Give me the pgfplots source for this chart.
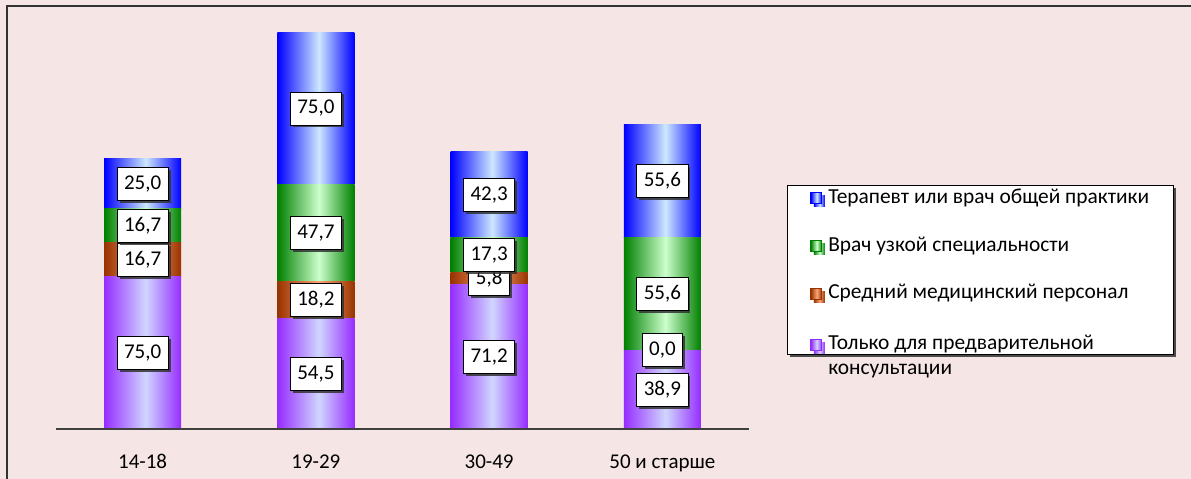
\documentclass[border=0pt]{standalone}
\usepackage{pgfplots}
\pgfplotsset{compat=1.18}
\usepackage{pgfplotstable}
\usepackage{fontspec}
\setmainfont{Carlito}
\usetikzlibrary{shadows}

\definecolor{bgpink}{RGB}{245,229,229}
\definecolor{blueE}{RGB}{0,0,255}
\definecolor{blueM}{RGB}{205,232,255}
\definecolor{greenE}{RGB}{0,128,0}
\definecolor{greenM}{RGB}{204,255,204}
\definecolor{brownE}{RGB}{153,51,0}
\definecolor{brownM}{RGB}{250,165,120}
\definecolor{violetE}{RGB}{150,45,255}
\definecolor{violetM}{RGB}{208,214,255}

% cylinder-like shading: saturated edges, light stripe a little right of centre
\newcommand\barshading[1]{%
  \pgfdeclarehorizontalshading{bar#1}{100bp}{color(0bp)=(#1E); color(25bp)=(#1E);
    color(52bp)=(#1M); color(75bp)=(#1E); color(100bp)=(#1E)}}
\barshading{blue}
\barshading{green}
\barshading{brown}
\barshading{violet}

% shares by age group: a = preliminary consultation only, b = nursing staff,
% c = specialist, d = therapist / general practitioner
\pgfplotstableread{
x  a    b    c    d
0  75.0 16.7 16.7 25.0
1  54.5 18.2 47.7 75.0
2  71.2 5.8  17.3 42.3
3  38.9 0.0  55.6 55.6
}\shares

\pgfplotsset{
  frame geom/.style={at={(56bp,50bp)}, anchor=south west,
    scale only axis, width=693bp, height=406bp,
    xmin=-0.5, xmax=3.5, ymin=0, ymax=200, clip=false},
  gradbar/.style={draw=none, shade, shading=bar#1,
    legend image code/.code={\draw[shade, shading=bar#1,
      draw=#1E, line width=0.8bp] (0bp,-0.5bp) rectangle (11bp,10.5bp);}},
  valuelabel/.style={forget plot, sharp plot, draw=none, mark=none,
    point meta=explicit,
    nodes near coords={\pgfmathprintnumber[fixed, fixed zerofill, precision=1, use comma]{\pgfplotspointmeta}},
    nodes near coords align={center},
    every node near coord/.append style={fill=white, draw=black, line width=0.8bp,
      text=black, inner xsep=7bp, inner ysep=0bp, minimum height=33bp,
      font=\fontsize{21bp}{25bp}\selectfont,
      drop shadow={shadow xshift=2.5bp, shadow yshift=-2.5bp, opacity=0.85, fill=black!80}}},
}

% one stacked column per axis, so every bar gets its own shading
\newcommand\agegroup[2]{%
\begin{axis}[frame geom, hide axis, ybar stacked, bar width=77bp,
  restrict x to domain=#1:#2]
\addplot[gradbar=violet] table[x=x, y=a] {\shares};
\addplot[gradbar=brown] table[x=x, y=b] {\shares};
\addplot[gradbar=green] table[x=x, y=c] {\shares};
\addplot[gradbar=blue] table[x=x, y=d] {\shares};
\end{axis}}

\begin{document}
\begin{tikzpicture}
\useasboundingbox (0,0) rectangle (1191bp,479bp);
\fill[bgpink] (0,0) rectangle (1191bp,479bp);
\draw[black!80, line width=2bp] (7bp,0) -- (7bp,472.5bp) -- (1191bp,472.5bp);

\agegroup{-0.2}{0.2}
\agegroup{0.8}{1.2}
\agegroup{1.8}{2.2}
\agegroup{2.8}{3.2}

\begin{axis}[frame geom,
  axis x line=bottom, axis y line=none,
  axis line style={-, draw=black!75, line width=1.5bp},
  xtick={0,1,2,3}, xticklabels={14-18,19-29,30-49,50 и старше},
  xtick style={draw=none}, ytick=\empty,
  xticklabel style={anchor=base, yshift=-37bp, font=\fontsize{21bp}{25bp}\selectfont},
  /pgf/number format/assume math mode=true,
  legend cell align=left,
  legend style={at={(axis description cs:1.0548,0.601)}, anchor=north west,
    draw=black, line width=1bp, fill=white,
    drop shadow={shadow xshift=3bp, shadow yshift=-3bp, opacity=1, fill=black!70},
    font=\fontsize{21.4bp}{25bp}\selectfont,
    inner xsep=23bp, inner ysep=3bp, row sep=32bp, column sep=5bp,
    nodes={inner xsep=1bp, inner ysep=0bp},
    cells={anchor=base west}},
]
\addlegendimage{gradbar=blue}
\addlegendentry{Терапевт или врач общей практики}
\addlegendimage{gradbar=green}
\addlegendentry{Врач узкой специальности}
\addlegendimage{gradbar=brown}
\addlegendentry{Средний медицинский персонал}
\addlegendimage{gradbar=violet}
\addlegendentry{\begin{tabular}[t]{@{}l@{}}Только для предварительной\\консультации\end{tabular}}

% value boxes at the middle of each segment
\addplot[valuelabel] table[x=x, y expr=\thisrow{a}/2, meta=a] {\shares};
\addplot[valuelabel] table[x=x, y expr=\thisrow{a}+\thisrow{b}/2, meta=b] {\shares};
\addplot[valuelabel] table[x=x, y expr=\thisrow{a}+\thisrow{b}+\thisrow{c}/2, meta=c] {\shares};
\addplot[valuelabel] table[x=x, y expr=\thisrow{a}+\thisrow{b}+\thisrow{c}+\thisrow{d}/2, meta=d] {\shares};
\end{axis}
\end{tikzpicture}
\end{document}
